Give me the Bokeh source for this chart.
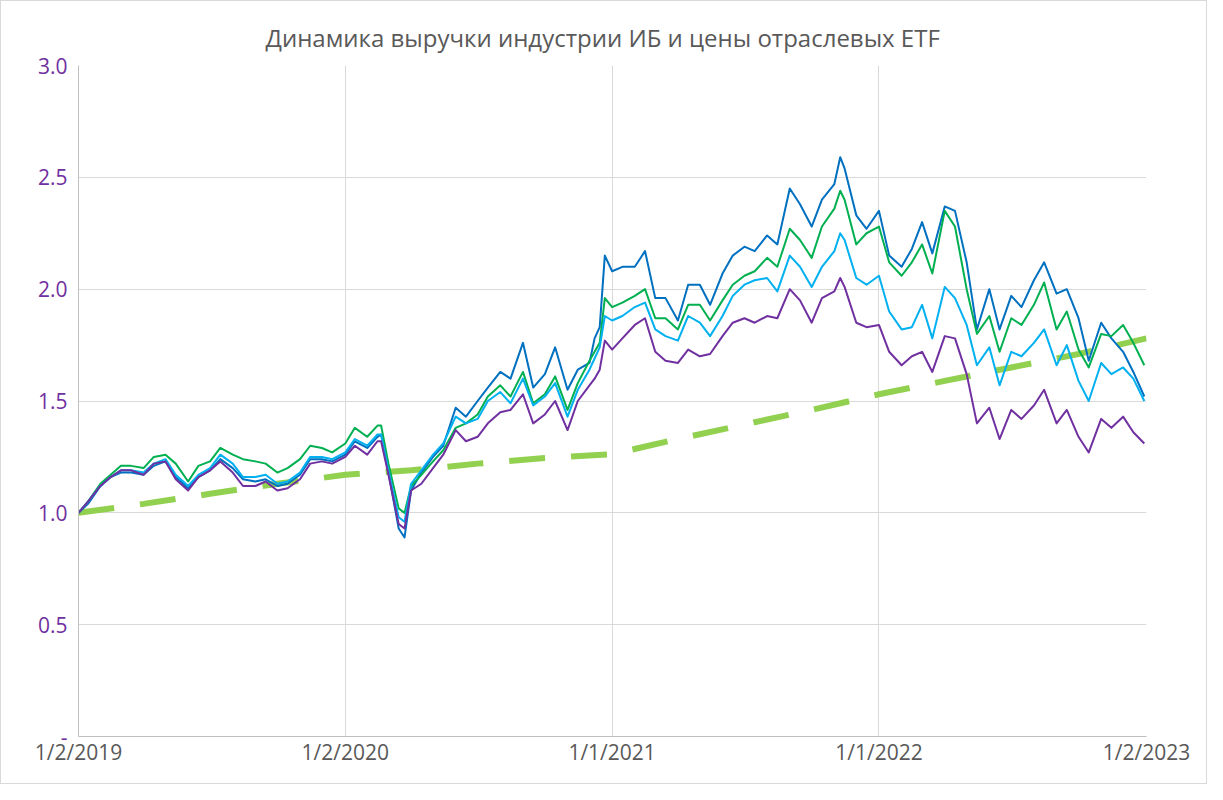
import pandas as pd
from bokeh.plotting import figure
from bokeh.models import Range1d, FixedTicker, CustomJSTickFormatter
from bokeh.embed import file_html
from bokeh.resources import INLINE

TITLE = "Динамика выручки индустрии ИБ и цены отраслевых ETF"

dates = [
    "2019-01-02", "2019-01-15", "2019-02-01", "2019-02-15", "2019-03-01", "2019-03-15",
    "2019-04-01", "2019-04-15", "2019-05-01", "2019-05-15", "2019-06-01", "2019-06-15",
    "2019-07-01", "2019-07-15", "2019-08-01", "2019-08-15", "2019-09-01", "2019-09-15",
    "2019-10-01", "2019-10-15", "2019-11-01", "2019-11-15", "2019-12-01", "2019-12-15",
    "2020-01-02", "2020-01-15", "2020-02-01", "2020-02-15", "2020-02-20", "2020-03-01",
    "2020-03-15", "2020-03-23", "2020-04-01", "2020-04-15", "2020-05-01", "2020-05-15",
    "2020-06-01", "2020-06-15", "2020-07-01", "2020-07-15", "2020-08-01", "2020-08-15",
    "2020-09-01", "2020-09-15", "2020-10-01", "2020-10-15", "2020-11-01", "2020-11-15",
    "2020-12-01", "2020-12-08", "2020-12-15", "2020-12-22",
    "2021-01-01", "2021-01-15", "2021-02-01", "2021-02-15", "2021-03-01", "2021-03-15",
    "2021-04-01", "2021-04-15", "2021-05-01", "2021-05-15", "2021-06-01", "2021-06-15",
    "2021-07-01", "2021-07-15", "2021-08-01", "2021-08-15", "2021-09-01", "2021-09-15",
    "2021-10-01", "2021-10-15", "2021-11-01", "2021-11-09", "2021-11-15", "2021-12-01",
    "2021-12-15",
    "2022-01-01", "2022-01-15", "2022-02-01", "2022-02-15", "2022-03-01", "2022-03-15",
    "2022-04-01", "2022-04-15", "2022-05-01", "2022-05-15", "2022-06-01", "2022-06-15",
    "2022-07-01", "2022-07-15", "2022-08-01", "2022-08-15", "2022-09-01", "2022-09-15",
    "2022-10-01", "2022-10-15", "2022-11-01", "2022-11-15", "2022-12-01", "2022-12-15",
    "2022-12-30",
]

etf_purple = [
    1.00, 1.05, 1.12, 1.16, 1.19, 1.19, 1.17, 1.22, 1.23, 1.15, 1.10, 1.16,
    1.19, 1.23, 1.18, 1.12, 1.12, 1.14, 1.10, 1.11, 1.15, 1.22, 1.23, 1.22,
    1.25, 1.30, 1.26, 1.32, 1.32, 1.17, 0.95, 0.93, 1.10, 1.13, 1.20, 1.26,
    1.37, 1.32, 1.34, 1.40, 1.45, 1.46, 1.53, 1.40, 1.44, 1.50, 1.37, 1.50,
    1.57, 1.60, 1.64, 1.77,
    1.73, 1.78, 1.84, 1.87, 1.72, 1.68, 1.67, 1.73, 1.70, 1.71, 1.79, 1.85,
    1.87, 1.85, 1.88, 1.87, 2.00, 1.95, 1.85, 1.96, 1.99, 2.05, 2.01, 1.85,
    1.83,
    1.84, 1.72, 1.66, 1.70, 1.72, 1.63, 1.79, 1.78, 1.62, 1.40, 1.47, 1.33,
    1.46, 1.42, 1.48, 1.55, 1.40, 1.46, 1.34, 1.27, 1.42, 1.38, 1.43, 1.36,
    1.31,
]

etf_green = [
    1.00, 1.05, 1.13, 1.17, 1.21, 1.21, 1.20, 1.25, 1.26, 1.22, 1.14, 1.21,
    1.23, 1.29, 1.26, 1.24, 1.23, 1.22, 1.18, 1.20, 1.24, 1.30, 1.29, 1.27,
    1.31, 1.38, 1.34, 1.39, 1.39, 1.22, 1.02, 1.00, 1.12, 1.17, 1.23, 1.28,
    1.38, 1.40, 1.44, 1.52, 1.57, 1.52, 1.63, 1.49, 1.53, 1.61, 1.46, 1.58,
    1.68, 1.72, 1.76, 1.96,
    1.92, 1.94, 1.97, 2.00, 1.87, 1.87, 1.82, 1.93, 1.93, 1.86, 1.95, 2.02,
    2.06, 2.08, 2.14, 2.10, 2.27, 2.22, 2.14, 2.28, 2.36, 2.44, 2.40, 2.20,
    2.25,
    2.28, 2.12, 2.06, 2.12, 2.20, 2.07, 2.35, 2.28, 2.00, 1.80, 1.88, 1.72,
    1.87, 1.84, 1.93, 2.03, 1.82, 1.90, 1.73, 1.65, 1.80, 1.79, 1.84, 1.76,
    1.66,
]

etf_light_blue = [
    1.00, 1.05, 1.12, 1.16, 1.19, 1.19, 1.18, 1.22, 1.24, 1.17, 1.12, 1.17,
    1.20, 1.26, 1.22, 1.16, 1.16, 1.17, 1.13, 1.14, 1.18, 1.25, 1.25, 1.24,
    1.27, 1.33, 1.30, 1.35, 1.35, 1.19, 0.98, 0.96, 1.13, 1.19, 1.26, 1.31,
    1.43, 1.40, 1.42, 1.50, 1.54, 1.49, 1.60, 1.48, 1.52, 1.58, 1.43, 1.55,
    1.64, 1.69, 1.74, 1.88,
    1.86, 1.88, 1.92, 1.94, 1.82, 1.79, 1.77, 1.88, 1.85, 1.79, 1.88, 1.97,
    2.02, 2.04, 2.05, 1.99, 2.15, 2.10, 2.01, 2.10, 2.17, 2.25, 2.22, 2.05,
    2.02,
    2.06, 1.90, 1.82, 1.83, 1.93, 1.78, 2.01, 1.96, 1.84, 1.66, 1.74, 1.57,
    1.72, 1.70, 1.76, 1.82, 1.66, 1.75, 1.59, 1.50, 1.67, 1.62, 1.65, 1.60,
    1.50,
]

etf_dark_blue = [
    1.00, 1.04, 1.12, 1.16, 1.18, 1.18, 1.17, 1.21, 1.23, 1.16, 1.11, 1.16,
    1.19, 1.24, 1.20, 1.15, 1.14, 1.15, 1.12, 1.13, 1.17, 1.24, 1.24, 1.23,
    1.26, 1.32, 1.29, 1.34, 1.35, 1.18, 0.93, 0.89, 1.10, 1.18, 1.25, 1.30,
    1.47, 1.43, 1.50, 1.56, 1.63, 1.60, 1.76, 1.56, 1.62, 1.74, 1.55, 1.64,
    1.67, 1.78, 1.83, 2.15,
    2.08, 2.10, 2.10, 2.17, 1.96, 1.96, 1.86, 2.02, 2.02, 1.93, 2.07, 2.15,
    2.19, 2.17, 2.24, 2.20, 2.45, 2.38, 2.28, 2.40, 2.47, 2.59, 2.54, 2.33,
    2.27,
    2.35, 2.15, 2.10, 2.18, 2.30, 2.16, 2.37, 2.35, 2.12, 1.82, 2.00, 1.82,
    1.97, 1.92, 2.04, 2.12, 1.98, 2.00, 1.87, 1.68, 1.85, 1.78, 1.72, 1.63,
    1.52,
]

revenue_dates = [
    "2019-01-02", "2019-04-01", "2019-07-01", "2019-10-01",
    "2020-01-02", "2020-04-01", "2020-07-01", "2020-10-01",
    "2021-01-01", "2021-04-01", "2021-07-01", "2021-10-01",
    "2022-01-01", "2022-04-01", "2022-07-01", "2022-10-01",
    "2023-01-02",
]
revenue_index = [
    1.00, 1.04, 1.085, 1.13,
    1.17, 1.19, 1.22, 1.245,
    1.262, 1.33, 1.395, 1.46,
    1.53, 1.59, 1.65, 1.71,
    1.78,
]

x_ticks = ["2019-01-02", "2020-01-02", "2021-01-01", "2022-01-01", "2023-01-02"]
y_ticks = [0, 0.5, 1.0, 1.5, 2.0, 2.5, 3.0]

FONT = "Open Sans"

d = pd.to_datetime(dates)
rd = pd.to_datetime(revenue_dates)
xt = [int(pd.Timestamp(t).value // 10**6) for t in x_ticks]

p = figure(
    width=1207, height=784,
    x_axis_type="datetime",
    x_range=Range1d(pd.Timestamp(x_ticks[0]), pd.Timestamp(x_ticks[-1])),
    y_range=Range1d(0, 3),
    output_backend="svg", toolbar_location=None,
    min_border_left=77, min_border_right=62, min_border_top=64, min_border_bottom=49,
)
p.styles = {"border": "1px solid #D9D9D9"}
p.outline_line_color = None
p.background_fill_color = "white"
p.border_fill_color = "white"

p.title.text = TITLE
p.title.align = "left"
p.title.offset = 187
p.title.text_font = FONT
p.title.text_font_size = "24px"
p.title.text_font_style = "normal"
p.title.text_color = "#595959"
p.title.standoff = 24

xtick = FixedTicker(ticks=xt)
ytick = FixedTicker(ticks=y_ticks)
p.xaxis.ticker = xtick
p.xgrid.ticker = xtick
p.yaxis.ticker = ytick
p.ygrid.ticker = ytick

p.xaxis.formatter = CustomJSTickFormatter(code="""
const d = new Date(tick);
return (d.getUTCMonth() + 1) + '/' + d.getUTCDate() + '/' + d.getUTCFullYear();
""")
p.yaxis.formatter = CustomJSTickFormatter(code="""
return tick == 0 ? '-' : tick.toFixed(1);
""")

for ax in (p.xaxis, p.yaxis):
    ax.axis_line_color = "#BFBFBF"
    ax.axis_line_width = 1
    ax.major_tick_line_color = None
    ax.minor_tick_line_color = None
    ax.major_label_text_font = FONT
    ax.major_label_text_font_size = "21px"
p.xaxis.major_label_text_color = "#595959"
p.yaxis.major_label_text_color = "#7030A0"
p.xaxis.major_label_standoff = -5
p.yaxis.major_label_standoff = 5

for g in (p.xgrid, p.ygrid):
    g.grid_line_color = "#D9D9D9"
    g.grid_line_width = 1

p.line(rd, revenue_index, line_color="#92D050", line_width=6, line_dash="36 26")
p.line(d, etf_dark_blue, line_color="#0070C0", line_width=2, line_join="round")
p.line(d, etf_green, line_color="#00B050", line_width=2, line_join="round")
p.line(d, etf_light_blue, line_color="#00B0F0", line_width=2, line_join="round")
p.line(d, etf_purple, line_color="#7030A0", line_width=2, line_join="round")

open("out.html", "w").write(file_html(p, INLINE))
